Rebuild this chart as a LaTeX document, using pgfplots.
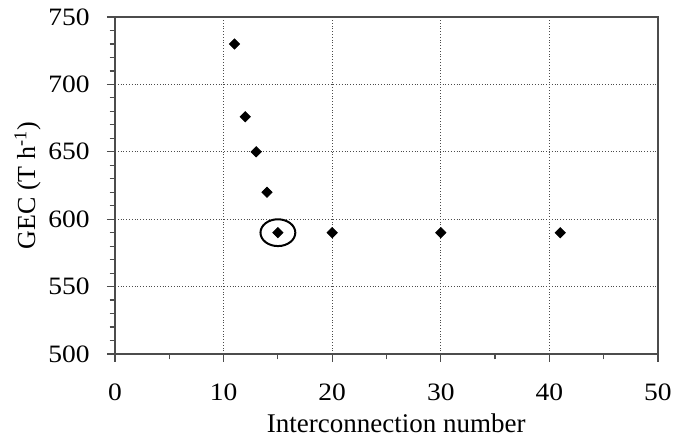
\documentclass[border=0pt]{standalone}
\usepackage{pgfplots}
\pgfplotsset{compat=1.18}
\usepackage{fontspec}
\setmainfont{Liberation Serif}
\begin{document}
\begin{tikzpicture}
\begin{axis}[
  name=ax,
  scale only axis,
  width=271.5pt, height=168.5pt,
  xmin=0, xmax=50, ymin=500, ymax=750,
  xtick={0,10,...,50}, ytick={500,550,...,750},
  minor x tick num=1, minor y tick num=4,
  tick align=outside,
  major tick length=4pt, minor tick length=2.7pt,
  xtick pos=bottom, ytick pos=left,
  grid=major,
  major grid style={densely dotted, black!70, line width=0.5pt},
  axis line style={black!70, line width=0.7pt},
  tick style={black!70, line width=0.6pt},
  /pgf/number format/assume math mode=true,
  ticklabel style={font=\fontsize{12.5}{14}\selectfont, xscale=1.1},
  xticklabel shift=7.3pt,
  yticklabel shift=4.8pt,
  xlabel={Interconnection number},
  ylabel={GEC (T h\textsuperscript{-1})},
  xlabel style={font=\fontsize{13.5}{15}\selectfont, at={(axis description cs:0.518,-0.2344)}, anchor=base},
  ylabel style={font=\fontsize{13}{15}\selectfont, at={(axis description cs:-0.1473,0.5)}, anchor=base},
]
\addplot[only marks, mark=square*, mark size=1.8pt, mark options={rotate=45, fill=black, draw=black}]
  coordinates {(11,730) (12,676) (13,650) (14,620) (15,590) (20,590) (30,590) (41,590)};
\addplot[only marks, mark=o, mark size=6.7pt, mark options={xscale=1.3, line width=1pt, draw=black}]
  coordinates {(15,590)};
\end{axis}
\path (ax.south east) ++(14.5pt,-41pt);
\path (ax.north west) ++(-57.5pt,8.5pt);
\end{tikzpicture}
\end{document}
